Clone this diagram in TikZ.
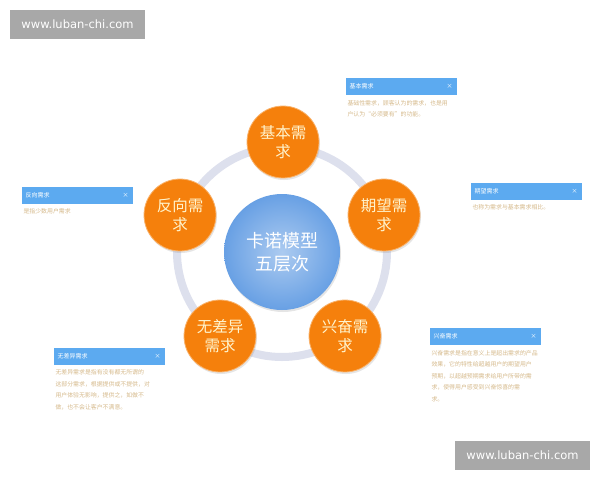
\documentclass[tikz,border=0pt]{standalone}
\usepackage{fontspec}
\setmainfont{Noto Sans CJK SC}
\newfontfamily\wmfont{DejaVu Sans}
\usepackage{tikz}
\usetikzlibrary{positioning, shadows}
\definecolor{kanoorange}{RGB}{245,128,12}
\definecolor{kanoblue}{RGB}{104,160,228}
\definecolor{ringgray}{RGB}{221,224,237}
\definecolor{headblue}{RGB}{92,170,240}
\definecolor{bodytan}{RGB}{214,186,140}
\definecolor{markgray}{RGB}{168,168,168}
\definecolor{paleyellow}{RGB}{255,244,205}
\tikzstyle{level}=[%
      circle, fill=kanoorange, draw=kanoorange!60!white, thick,
      drop shadow={opacity=0.2, shadow xshift=1pt, shadow yshift=-2pt},
      minimum size=72pt, inner sep=0pt, text=paleyellow, align=center,
      font=\fontsize{15.5}{19}\selectfont
]
\tikzstyle{core}=[%
      circle, inner color=kanoblue!55!white, outer color=kanoblue,
      drop shadow={opacity=0.2, shadow xshift=1pt, shadow yshift=-2pt},
      minimum size=116pt, inner sep=0pt, text=white, align=center,
      font=\fontsize{18}{23}\selectfont
]
\tikzstyle{head}=[%
      rectangle, fill=headblue, minimum width=111pt, minimum height=17pt,
      text width=103pt, inner sep=4pt, text=white, font=\fontsize{6}{7}\selectfont
]
\tikzstyle{note}=[%
      text=bodytan, text width=106pt, inner sep=0pt, align=left,
      font=\fontsize{5.9}{11.5}\selectfont
]
\tikzstyle{watermark}=[%
      rectangle, fill=markgray, minimum width=135pt, minimum height=29pt,
      text=white, font=\wmfont\fontsize{11.5}{14}\selectfont
]

\begin{document}
\begin{tikzpicture}[x=1pt, y=-1pt]
    \useasboundingbox[fill=white] (0,0) rectangle (600,480);

    % five levels round the core
    \coordinate (o) at (282,252);
    \draw[ringgray, line width=8pt] (o) circle [radius=105];
    \node[core]  (kano)   at (o)       {卡诺模型\\五层次};
    \node[level] (basic)  at (283,142) {基本需\\求};
    \node[level] (expect) at (384,215) {期望需\\求};
    \node[level] (wow)    at (345,336) {兴奋需\\求};
    \node[level] (indiff) at (220,336) {无差异\\需求};
    \node[level] (revers) at (180,215) {反向需\\求};

    % notes
    \node[head] (hbasic)  at (401,86.5) {基本需求\hfill ×};
    \node[note] (nbasic)  [below right=5pt and 2pt of hbasic.south west]
        {基础性需求，顾客认为的需求，也是用\\户认为“必须要有”的功能。};
    \node[head] (hexpect) at (526,191)  {期望需求\hfill ×};
    \node[note] (nexpect) [below right=5pt and 2pt of hexpect.south west]
        {也称为需求与基本需求相比。};
    \node[head] (hrevers) at (77,195)   {反向需求\hfill ×};
    \node[note] (nrevers) [below right=5pt and 2pt of hrevers.south west]
        {是指少数用户需求};
    \node[head] (hindiff) at (109,356)  {无差异需求\hfill ×};
    \node[note] (nindiff) [below right=5pt and 2pt of hindiff.south west]
        {无差异需求是指有没有都无所谓的\\这部分需求，根据提供或不提供，对\\用户体验无影响，提供之，如做不\\做，也不会让客户不满意。};
    \node[head] (hwow)    at (485,336.5) {兴奋需求\hfill ×};
    \node[note] (nwow)    [below right=5pt and 2pt of hwow.south west]
        {兴奋需求是指在意义上是超出需求的产品\\效果，它的特性给超越用户的期望用户\\预期，以超越预期需求给用户所带的需\\求，使得用户感受到兴奋惊喜的需\\求。};

    % watermarks
    \node[watermark] (wm1) at (77.5,24.5)  {www.luban-chi.com};
    \node[watermark] (wm2) at (522.5,455)  {www.luban-chi.com};
\end{tikzpicture}
\end{document}
